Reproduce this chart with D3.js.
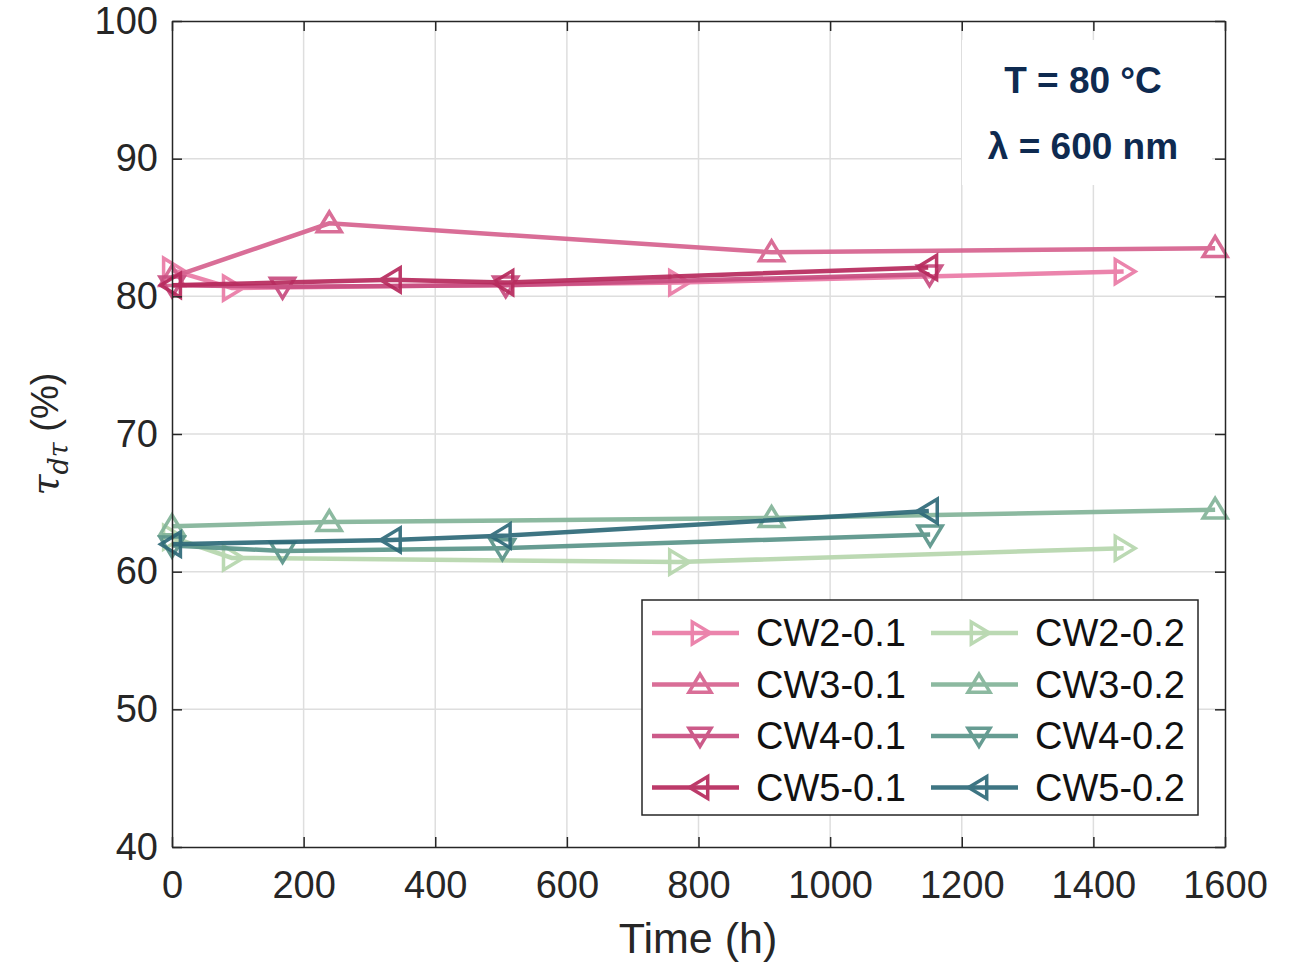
<!DOCTYPE html>
<html>
<head>
<meta charset="utf-8">
<script src="https://cdn.jsdelivr.net/npm/d3@7"></script>
<style>
  html, body { margin: 0; padding: 0; background: #fff; }
  svg { display: block; font-family: "Liberation Sans", Arial, sans-serif; }
</style>
</head>
<body>
<svg id="chart" width="1296" height="963"></svg>
<script>
// Transmittance over ageing time at 80 °C, 600 nm
const seriesNames = ["CW2-0.1", "CW3-0.1", "CW4-0.1", "CW5-0.1", "CW2-0.2", "CW3-0.2", "CW4-0.2", "CW5-0.2"];
const seriesColors = ["#ea7aa6", "#d6628f", "#c84d80", "#b72a5d", "#b6d6ad", "#83b499", "#5a9489", "#2e6a79"];
const seriesMarkers = ["right", "up", "down", "left", "right", "up", "down", "left"];

const cw2_01 = [[0, 81.9], [91, 80.6], [769, 81.0], [1446, 81.8]];
const cw3_01 = [[0, 81.4], [239, 85.3], [911, 83.2], [1585, 83.5]];
const cw4_01 = [[0, 80.8], [168, 80.7], [507, 80.8], [1151, 81.6]];
const cw5_01 = [[0, 80.8], [334, 81.2], [505, 81.0], [1149, 82.1]];
const cw2_02 = [[0, 62.5], [91, 61.0], [769, 60.7], [1446, 61.7]];
const cw3_02 = [[0, 63.3], [239, 63.6], [911, 63.9], [1585, 64.5]];
const cw4_02 = [[0, 61.9], [168, 61.5], [502, 61.7], [1152, 62.7]];
const cw5_02 = [[0, 62.0], [334, 62.3], [501, 62.6], [1150, 64.4]];
const seriesData = [cw2_01, cw3_01, cw4_01, cw5_01, cw2_02, cw3_02, cw4_02, cw5_02];

const xTicks = [0, 200, 400, 600, 800, 1000, 1200, 1400, 1600];
const yTicks = [40, 50, 60, 70, 80, 90, 100];
const annotationLines = ["T = 80 °C", "λ = 600 nm"];

const svg = d3.select("#chart");
const plotLeft = 172, plotRight = 1225, plotTop = 21, plotBottom = 847;
const x = d3.scaleLinear().domain([0, 1600]).range([plotLeft, plotRight]);
const y = d3.scaleLinear().domain([40, 100]).range([plotBottom, plotTop]);
const axisColor = "#262626";

// grid
const grid = svg.append("g");
grid.selectAll("line.gx").data(xTicks.slice(1, -1)).join("line")
  .attr("x1", d => x(d)).attr("x2", d => x(d)).attr("y1", plotTop).attr("y2", plotBottom)
  .attr("stroke", "#dedede").attr("stroke-width", 1.5);
grid.selectAll("line.gy").data(yTicks.slice(1, -1)).join("line")
  .attr("y1", d => y(d)).attr("y2", d => y(d)).attr("x1", plotLeft).attr("x2", plotRight)
  .attr("stroke", "#dedede").attr("stroke-width", 1.5);

// annotation backdrop
svg.append("rect").attr("x", 962).attr("y", 40).attr("width", 250).attr("height", 145).attr("fill", "#fff");

// triangle marker path centred on 0,0
function tri(dir, s) {
  const h = s * 0.5;
  const pts = {
    up: [[0, -h * 0.95], [h, h * 0.7], [-h, h * 0.7]],
    down: [[0, h * 0.95], [h, -h * 0.7], [-h, -h * 0.7]],
    left: [[-h * 0.95, 0], [h * 0.7, -h], [h * 0.7, h]],
    right: [[h * 0.95, 0], [-h * 0.7, -h], [-h * 0.7, h]]
  }[dir];
  return "M" + pts.map(p => p.join(",")).join("L") + "Z";
}

const line = d3.line().x(d => x(d[0])).y(d => y(d[1]));
const plot = svg.append("g");
seriesData.forEach((data, i) => {
  const g = plot.append("g").attr("opacity", 0.92);
  g.append("path").datum(data).attr("d", line)
    .attr("fill", "none").attr("stroke", seriesColors[i]).attr("stroke-width", 4.5);
  g.selectAll("path.m").data(data).join("path")
    .attr("transform", d => `translate(${x(d[0])},${y(d[1])})`)
    .attr("d", tri(seriesMarkers[i], 24))
    .attr("fill", "none").attr("stroke", seriesColors[i]).attr("stroke-width", 3.5)
    .attr("stroke-linejoin", "miter");
});

// axes box with inward ticks
const ax = svg.append("g");
const xAxisB = d3.axisBottom(x).tickValues(xTicks).tickFormat(d3.format("d"))
  .tickSizeInner(-10).tickSizeOuter(0).tickPadding(24);
const xAxisT = d3.axisTop(x).tickValues(xTicks).tickSizeInner(-10).tickSizeOuter(0).tickFormat("");
const yAxisL = d3.axisLeft(y).tickValues(yTicks).tickFormat(d3.format("d"))
  .tickSizeInner(-10).tickSizeOuter(0).tickPadding(14);
const yAxisR = d3.axisRight(y).tickValues(yTicks).tickSizeInner(-10).tickSizeOuter(0).tickFormat("");
[[xAxisB, `translate(0,${plotBottom})`], [xAxisT, `translate(0,${plotTop})`],
 [yAxisL, `translate(${plotLeft},0)`], [yAxisR, `translate(${plotRight},0)`]].forEach(([a, t]) => {
  const g = ax.append("g").attr("transform", t).call(a);
  g.select(".domain").attr("stroke", axisColor).attr("stroke-width", 1.5);
  g.selectAll(".tick line").attr("stroke", axisColor).attr("stroke-width", 1.5);
  g.selectAll(".tick text").attr("fill", "#262626").attr("font-size", 38)
    .attr("font-family", "'Liberation Sans', Arial, sans-serif");
});

// axis titles
svg.append("text").attr("x", 698).attr("y", 953).attr("text-anchor", "middle")
  .attr("font-size", 43).attr("fill", "#262626").text("Time (h)");
const yl = svg.append("text").attr("transform", `translate(58,${(plotTop + plotBottom) / 2}) rotate(-90)`)
  .attr("text-anchor", "middle").attr("font-size", 38).attr("fill", "#262626");
yl.append("tspan").attr("font-style", "italic").attr("font-family", "'DejaVu Serif', serif").text("τ");
yl.append("tspan").attr("font-style", "italic").attr("font-size", 27).attr("dy", 10)
  .attr("font-family", "'DejaVu Serif', serif").text("dτ");
yl.append("tspan").attr("dy", -10).text(" (%)");

// annotation
annotationLines.forEach((t, i) => {
  svg.append("text").attr("x", 1083).attr("y", 93 + i * 66).attr("text-anchor", "middle")
    .attr("font-size", 37).attr("font-weight", "bold").attr("fill", "#0e2a50")
    .attr("font-family", "Arial, 'Liberation Sans', sans-serif").text(t);
});

// legend
const lg = svg.append("g");
lg.append("rect").attr("x", 642).attr("y", 600).attr("width", 556).attr("height", 215)
  .attr("fill", "#fff").attr("stroke", "#262626").attr("stroke-width", 1.5);
seriesNames.forEach((name, i) => {
  const col = Math.floor(i / 4), row = i % 4;
  const lx = 652 + col * 279, ly = 633 + row * 51.5;
  const g = lg.append("g").attr("opacity", 0.92);
  g.append("line").attr("x1", lx).attr("x2", lx + 87).attr("y1", ly).attr("y2", ly)
    .attr("stroke", seriesColors[i]).attr("stroke-width", 4.5);
  g.append("path").attr("transform", `translate(${lx + 48},${ly})`)
    .attr("d", tri(seriesMarkers[i], 22)).attr("fill", "none")
    .attr("stroke", seriesColors[i]).attr("stroke-width", 3.5);
  lg.append("text").attr("x", lx + 104).attr("y", ly + 13).attr("font-size", 38)
    .attr("fill", "#111").text(name);
});
</script>
</body>
</html>
